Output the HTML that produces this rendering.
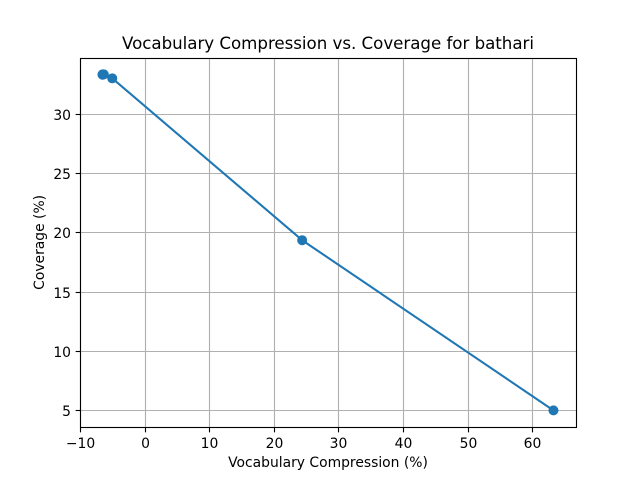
<!DOCTYPE html>
<html>
<head>
<meta charset="utf-8">
<style>
html,body{margin:0;padding:0;background:#fff;}
svg{display:block;}
text{font-family:"DejaVu Sans",sans-serif;fill:#000;}
</style>
</head>
<body>
<svg id="chart" width="640" height="480" viewBox="0 0 640 480" xmlns="http://www.w3.org/2000/svg">
<rect x="0" y="0" width="640" height="480" fill="#fff"/>
<g id="grid"></g>
<g id="series"></g>
<g id="axes"></g>
<text x="328" y="49" font-size="16.67" text-anchor="middle" textLength="412" lengthAdjust="spacing">Vocabulary Compression vs. Coverage for bathari</text>
<text x="328" y="467" font-size="13.89" text-anchor="middle">Vocabulary Compression (%)</text>
<text transform="translate(44,242.4) rotate(-90)" font-size="13.89" text-anchor="middle">Coverage (%)</text>
</svg>
<script>
const compression = [-6.5, -6.4, -6.3, -6.5, -5, 24.4, 63.3];
const coverage = [33.33, 33.33, 33.33, 33.3, 33, 19.35, 5];
const xTicks = [-10, 0, 10, 20, 30, 40, 50, 60];
const yTicks = [5, 10, 15, 20, 25, 30];

const NS = 'http://www.w3.org/2000/svg';
const plot = {left: 80, right: 576, top: 57.6, bottom: 427.2};
const xMinData = Math.min.apply(null, compression);
const xMaxData = Math.max.apply(null, compression);
const yMinData = Math.min.apply(null, coverage);
const yMaxData = Math.max.apply(null, coverage);
const xPad = (xMaxData - xMinData) * 0.05;
const yPad = (yMaxData - yMinData) * 0.05;
const xLo = xMinData - xPad, xHi = xMaxData + xPad;
const yLo = yMinData - yPad, yHi = yMaxData + yPad;

function xScale(v) {
  return plot.left + (v - xLo) / (xHi - xLo) * (plot.right - plot.left);
}
function yScale(v) {
  return plot.bottom - (v - yLo) / (yHi - yLo) * (plot.bottom - plot.top);
}
function snap(p) {
  return Math.round(p) + 0.5;
}
function make(tag, attrs, parent) {
  const el = document.createElementNS(NS, tag);
  for (const k in attrs) el.setAttribute(k, attrs[k]);
  parent.appendChild(el);
  return el;
}
function label(v) {
  return v < 0 ? '\u2212' + Math.abs(v) : String(v);
}

const gridG = document.getElementById('grid');
const axesG = document.getElementById('axes');
const seriesG = document.getElementById('series');
const frameLeft = snap(plot.left), frameRight = snap(plot.right);
const frameTop = snap(plot.top), frameBottom = snap(plot.bottom);

xTicks.forEach(function (t) {
  const px = snap(xScale(t));
  const g = make('line', {x1: px, x2: px, y1: frameTop, y2: frameBottom, stroke: '#b0b0b0', 'stroke-width': 1.11}, gridG);
  
  
  const m = make('line', {x1: px, x2: px, y1: frameBottom, y2: frameBottom + 4.86, stroke: '#000', 'stroke-width': 1.11}, axesG);
  
  
  const l = make('text', {x: px, y: 448, 'font-size': 13.89, 'text-anchor': 'middle'}, axesG);
  l.textContent = label(t);
  
  
});

yTicks.forEach(function (t) {
  const py = snap(yScale(t));
  const g = make('line', {x1: frameLeft, x2: frameRight, y1: py, y2: py, stroke: '#b0b0b0', 'stroke-width': 1.11}, gridG);
  
  
  const m = make('line', {x1: frameLeft - 4.86, x2: frameLeft, y1: py, y2: py, stroke: '#000', 'stroke-width': 1.11}, axesG);
  
  
  const l = make('text', {x: 71, y: py + 5.5, 'font-size': 13.89, 'text-anchor': 'end'}, axesG);
  l.textContent = label(t);
  
  
});

const frame = make('rect', {x: frameLeft, y: frameTop, width: frameRight - frameLeft, height: frameBottom - frameTop, fill: 'none', stroke: '#000', 'stroke-width': 1.11}, axesG);



const pts = compression.map(function (c, i) {
  return xScale(c) + ',' + yScale(coverage[i]);
}).join(' ');
const line = make('polyline', {points: pts, fill: 'none', stroke: '#1f77b4', 'stroke-width': 2.08, 'stroke-linejoin': 'round', 'stroke-linecap': 'square'}, seriesG);



compression.forEach(function (c, i) {
  const dot = make('circle', {cx: xScale(c), cy: yScale(coverage[i]), r: 4.3, fill: '#1f77b4', stroke: '#1f77b4', 'stroke-width': 1.39}, seriesG);
  
  
});
</script>
</body>
</html>
